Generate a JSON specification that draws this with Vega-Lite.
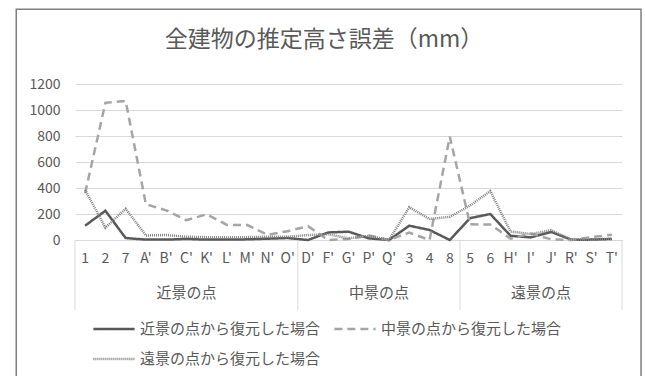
{
  "$schema": "https://vega.github.io/schema/vega-lite/v6.json",
  "width": 547,
  "height": 156,
  "autosize": {"type": "none"},
  "padding": {"left": 75, "top": 84, "right": 23, "bottom": 136},
  "background": "white",
  "config": {"view": {"stroke": null}, "font": "Noto Sans CJK JP"},
  "datasets": {
    "lines": [
      {"cat": "1", "series": "近景の点から復元した場合", "v": 110},
      {"cat": "2", "series": "近景の点から復元した場合", "v": 225},
      {"cat": "7", "series": "近景の点から復元した場合", "v": 15},
      {"cat": "A'", "series": "近景の点から復元した場合", "v": 3},
      {"cat": "B'", "series": "近景の点から復元した場合", "v": 3},
      {"cat": "C'", "series": "近景の点から復元した場合", "v": 8},
      {"cat": "K'", "series": "近景の点から復元した場合", "v": 3},
      {"cat": "L'", "series": "近景の点から復元した場合", "v": 3},
      {"cat": "M'", "series": "近景の点から復元した場合", "v": 5},
      {"cat": "N'", "series": "近景の点から復元した場合", "v": 10},
      {"cat": "O'", "series": "近景の点から復元した場合", "v": 15},
      {"cat": "D'", "series": "近景の点から復元した場合", "v": 0},
      {"cat": "F'", "series": "近景の点から復元した場合", "v": 58},
      {"cat": "G'", "series": "近景の点から復元した場合", "v": 64},
      {"cat": "P'", "series": "近景の点から復元した場合", "v": 13},
      {"cat": "Q'", "series": "近景の点から復元した場合", "v": 0},
      {"cat": "3", "series": "近景の点から復元した場合", "v": 110},
      {"cat": "4", "series": "近景の点から復元した場合", "v": 77},
      {"cat": "8", "series": "近景の点から復元した場合", "v": 0},
      {"cat": "5", "series": "近景の点から復元した場合", "v": 168},
      {"cat": "6", "series": "近景の点から復元した場合", "v": 200},
      {"cat": "H'", "series": "近景の点から復元した場合", "v": 32},
      {"cat": "I'", "series": "近景の点から復元した場合", "v": 20},
      {"cat": "J'", "series": "近景の点から復元した場合", "v": 62},
      {"cat": "R'", "series": "近景の点から復元した場合", "v": 2},
      {"cat": "S'", "series": "近景の点から復元した場合", "v": 3},
      {"cat": "T'", "series": "近景の点から復元した場合", "v": 8},
      {"cat": "1", "series": "中景の点から復元した場合", "v": 360},
      {"cat": "2", "series": "中景の点から復元した場合", "v": 1055},
      {"cat": "7", "series": "中景の点から復元した場合", "v": 1070},
      {"cat": "A'", "series": "中景の点から復元した場合", "v": 275},
      {"cat": "B'", "series": "中景の点から復元した場合", "v": 228},
      {"cat": "C'", "series": "中景の点から復元した場合", "v": 152},
      {"cat": "K'", "series": "中景の点から復元した場合", "v": 198},
      {"cat": "L'", "series": "中景の点から復元した場合", "v": 116},
      {"cat": "M'", "series": "中景の点から復元した場合", "v": 115},
      {"cat": "N'", "series": "中景の点から復元した場合", "v": 40},
      {"cat": "O'", "series": "中景の点から復元した場合", "v": 68},
      {"cat": "D'", "series": "中景の点から復元した場合", "v": 106},
      {"cat": "F'", "series": "中景の点から復元した場合", "v": 0},
      {"cat": "G'", "series": "中景の点から復元した場合", "v": 8},
      {"cat": "P'", "series": "中景の点から復元した場合", "v": 35},
      {"cat": "Q'", "series": "中景の点から復元した場合", "v": 0},
      {"cat": "3", "series": "中景の点から復元した場合", "v": 57},
      {"cat": "4", "series": "中景の点から復元した場合", "v": 0},
      {"cat": "8", "series": "中景の点から復元した場合", "v": 795},
      {"cat": "5", "series": "中景の点から復元した場合", "v": 121},
      {"cat": "6", "series": "中景の点から復元した場合", "v": 119},
      {"cat": "H'", "series": "中景の点から復元した場合", "v": 10},
      {"cat": "I'", "series": "中景の点から復元した場合", "v": 50},
      {"cat": "J'", "series": "中景の点から復元した場合", "v": 5},
      {"cat": "R'", "series": "中景の点から復元した場合", "v": 0},
      {"cat": "S'", "series": "中景の点から復元した場合", "v": 22},
      {"cat": "T'", "series": "中景の点から復元した場合", "v": 40},
      {"cat": "1", "series": "遠景の点から復元した場合", "v": 385},
      {"cat": "2", "series": "遠景の点から復元した場合", "v": 95},
      {"cat": "7", "series": "遠景の点から復元した場合", "v": 240},
      {"cat": "A'", "series": "遠景の点から復元した場合", "v": 35},
      {"cat": "B'", "series": "遠景の点から復元した場合", "v": 38},
      {"cat": "C'", "series": "遠景の点から復元した場合", "v": 25},
      {"cat": "K'", "series": "遠景の点から復元した場合", "v": 22},
      {"cat": "L'", "series": "遠景の点から復元した場合", "v": 20},
      {"cat": "M'", "series": "遠景の点から復元した場合", "v": 22},
      {"cat": "N'", "series": "遠景の点から復元した場合", "v": 25},
      {"cat": "O'", "series": "遠景の点から復元した場合", "v": 25},
      {"cat": "D'", "series": "遠景の点から復元した場合", "v": 38},
      {"cat": "F'", "series": "遠景の点から復元した場合", "v": 45},
      {"cat": "G'", "series": "遠景の点から復元した場合", "v": 12},
      {"cat": "P'", "series": "遠景の点から復元した場合", "v": 32},
      {"cat": "Q'", "series": "遠景の点から復元した場合", "v": 0},
      {"cat": "3", "series": "遠景の点から復元した場合", "v": 252},
      {"cat": "4", "series": "遠景の点から復元した場合", "v": 162},
      {"cat": "8", "series": "遠景の点から復元した場合", "v": 178},
      {"cat": "5", "series": "遠景の点から復元した場合", "v": 265},
      {"cat": "6", "series": "遠景の点から復元した場合", "v": 376},
      {"cat": "H'", "series": "遠景の点から復元した場合", "v": 65},
      {"cat": "I'", "series": "遠景の点から復元した場合", "v": 45},
      {"cat": "J'", "series": "遠景の点から復元した場合", "v": 76},
      {"cat": "R'", "series": "遠景の点から復元した場合", "v": 2},
      {"cat": "S'", "series": "遠景の点から復元した場合", "v": 3},
      {"cat": "T'", "series": "遠景の点から復元した場合", "v": 10}
    ],
    "groupsCenter": [{"cat": "C'", "label": "近景の点"}],
    "groupsEdge": [{"cat": "Q'", "label": "中景の点"}, {"cat": "J'", "label": "遠景の点"}],
    "sepStart": [{"cat": "1"}, {"cat": "D'"}, {"cat": "5"}],
    "sepEnd": [{"cat": "T'"}],
    "titleRow": [{"cat": "F'", "label": "全建物の推定高さ誤差（mm）"}]
  },
  "layer": [
    {
      "data": {"name": "lines"},
      "mark": {"type": "line", "strokeCap": "butt"},
      "encoding": {
        "x": {"field": "cat", "type": "nominal", "bandPosition": 0.5, "title": null,
          "scale": {"type": "band", "paddingInner": 0, "paddingOuter": 0, "domain": ["1","2","7","A'","B'","C'","K'","L'","M'","N'","O'","D'","F'","G'","P'","Q'","3","4","8","5","6","H'","I'","J'","R'","S'","T'"]},
          "axis": {"orient": "bottom", "ticks": false, "grid": false, "domainColor": "#d9d9d9", "labelAngle": 0, "labelPadding": 11, "labelFontSize": 14, "labelColor": "#595959", "labelOverlap": false, "labelBound": false}},
        "y": {"field": "v", "type": "quantitative", "title": null,
          "scale": {"domain": [0, 1200], "nice": false},
          "axis": {"values": [0, 200, 400, 600, 800, 1000, 1200], "tickCount": 7, "format": "d", "labelOverlap": false, "ticks": false, "domain": false, "grid": true, "gridColor": "#d9d9d9", "labelPadding": 15, "labelFontSize": 14, "labelColor": "#595959"}},
        "color": {"field": "series", "type": "ordinal",
          "scale": {"domain": ["近景の点から復元した場合", "中景の点から復元した場合", "遠景の点から復元した場合"], "range": ["#595959", "#a5a5a5", "#7f7f7f"]},
          "legend": {"orient": "none", "legendX": 17, "legendY": 223, "title": null, "direction": "horizontal", "columns": 2, "symbolType": "stroke", "symbolSize": 1700, "labelFontSize": 15, "labelColor": "#595959", "labelLimit": 400, "columnPadding": 8, "rowPadding": -14, "labelOffset": 4}},
        "strokeDash": {"field": "series", "type": "ordinal",
          "scale": {"domain": ["近景の点から復元した場合", "中景の点から復元した場合", "遠景の点から復元した場合"], "range": [[1, 0], [8, 5], [1, 1]]}},
        "strokeWidth": {"field": "series", "type": "ordinal",
          "scale": {"domain": ["近景の点から復元した場合", "中景の点から復元した場合", "遠景の点から復元した場合"], "range": [2.5, 2.5, 1]}}
      }
    },
    {
      "data": {"name": "sepStart"},
      "mark": {"type": "rule", "color": "#d9d9d9", "strokeWidth": 1},
      "encoding": {
        "x": {"field": "cat", "type": "nominal", "bandPosition": 0},
        "y": {"datum": 0, "type": "quantitative"},
        "y2": {"datum": -540}
      }
    },
    {
      "data": {"name": "sepEnd"},
      "mark": {"type": "rule", "color": "#d9d9d9", "strokeWidth": 1},
      "encoding": {
        "x": {"field": "cat", "type": "nominal", "bandPosition": 1},
        "y": {"datum": 0, "type": "quantitative"},
        "y2": {"datum": -540}
      }
    },
    {
      "data": {"values": [{}]},
      "mark": {"type": "rect", "fill": null, "filled": false, "stroke": "#7f7f7f", "strokeWidth": 1.5},
      "encoding": {
        "x": {"datum": "1", "type": "nominal", "bandPosition": -2.9},
        "x2": {"datum": "T'", "bandPosition": 1.94},
        "y": {"datum": 1775, "type": "quantitative"},
        "y2": {"datum": -1400}
      }
    },
    {
      "data": {"name": "titleRow"},
      "mark": {"type": "text", "fontSize": 23, "color": "#595959", "align": "center", "baseline": "middle"},
      "encoding": {
        "x": {"field": "cat", "type": "nominal", "bandPosition": 0.29},
        "y": {"datum": 1538, "type": "quantitative"},
        "text": {"field": "label"}
      }
    },
    {
      "data": {"name": "groupsCenter"},
      "mark": {"type": "text", "fontSize": 15, "color": "#595959", "align": "center", "baseline": "middle"},
      "encoding": {
        "x": {"field": "cat", "type": "nominal", "bandPosition": 0.5},
        "y": {"datum": -410, "type": "quantitative"},
        "text": {"field": "label"}
      }
    },
    {
      "data": {"name": "groupsEdge"},
      "mark": {"type": "text", "fontSize": 15, "color": "#595959", "align": "center", "baseline": "middle"},
      "encoding": {
        "x": {"field": "cat", "type": "nominal", "bandPosition": 0},
        "y": {"datum": -410, "type": "quantitative"},
        "text": {"field": "label"}
      }
    }
  ]
}
